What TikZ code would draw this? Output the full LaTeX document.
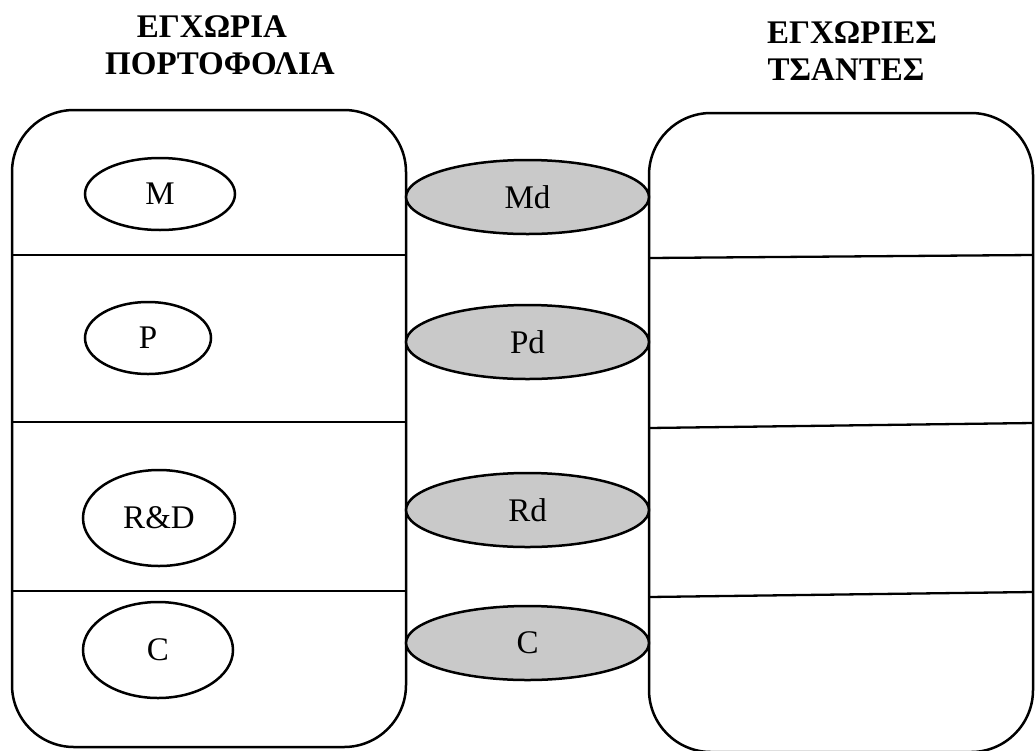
\documentclass[tikz,border=0pt]{standalone}
\usepackage{fontspec}
\setmainfont{Liberation Serif}
\usetikzlibrary{shapes.geometric}
\tikzset{
  panel/.style={draw, line width=2.5pt, rounded corners=62pt, inner sep=0pt},
  divider/.style={line width=2.3pt},
  oval/.style={ellipse, draw, line width=2.5pt, inner sep=0pt, font=\fontsize{33}{38}\selectfont},
  shaded/.style={oval, fill=gray!42},
  title/.style={anchor=base, font=\fontsize{33}{38}\selectfont\bfseries, inner sep=0pt}
}
\begin{document}
\begin{tikzpicture}[x=1pt, y=-1pt]
\useasboundingbox (0,0) rectangle (1035,750);
% titles
\node[title] (t1) at (212,37) {ΕΓΧΩΡΙΑ};
\node[title] (t2) at (220,74) {ΠΟΡΤΟΦΟΛΙΑ};
\node[title] (t3) at (852,43) {ΕΓΧΩΡΙΕΣ};
\node[title] (t4) at (846,80) {ΤΣΑΝΤΕΣ};
% panels
\node[panel, minimum width=394pt, minimum height=637pt] (L) at (209,428.5) {};
\node[panel, minimum width=384pt, minimum height=639pt] (R) at (841,432.5) {};
% dividers
\coordinate (l1a) at (12,255); \coordinate (l1b) at (406,255);
\coordinate (l2a) at (12,422); \coordinate (l2b) at (406,422);
\coordinate (l3a) at (12,591); \coordinate (l3b) at (406,591);
\coordinate (r1a) at (649,258); \coordinate (r1b) at (1033,255);
\coordinate (r2a) at (649,428); \coordinate (r2b) at (1033,423);
\coordinate (r3a) at (649,597); \coordinate (r3b) at (1033,592);
\draw[divider] (l1a) -- (l1b);
\draw[divider] (l2a) -- (l2b);
\draw[divider] (l3a) -- (l3b);
\draw[divider] (r1a) -- (r1b);
\draw[divider] (r2a) -- (r2b);
\draw[divider] (r3a) -- (r3b);
% left ellipses
\node[oval, minimum width=150pt, minimum height=72pt] (M) at (160,194) {M};
\node[oval, minimum width=126pt, minimum height=72pt] (P) at (148,338) {P};
\node[oval, minimum width=152pt, minimum height=96pt] (RD) at (159,518) {R\&D};
\node[oval, minimum width=150pt, minimum height=96pt] (C) at (158,650) {C};
% middle shaded ellipses
\node[shaded, minimum width=243pt, minimum height=74pt] (Md) at (527.5,197) {Md};
\node[shaded, minimum width=243pt, minimum height=74pt] (Pd) at (527.5,342) {Pd};
\node[shaded, minimum width=243pt, minimum height=74pt] (Rd) at (527.5,510) {Rd};
\node[shaded, minimum width=243pt, minimum height=74pt] (Cd) at (527.5,643) {C};
\end{tikzpicture}
\end{document}
